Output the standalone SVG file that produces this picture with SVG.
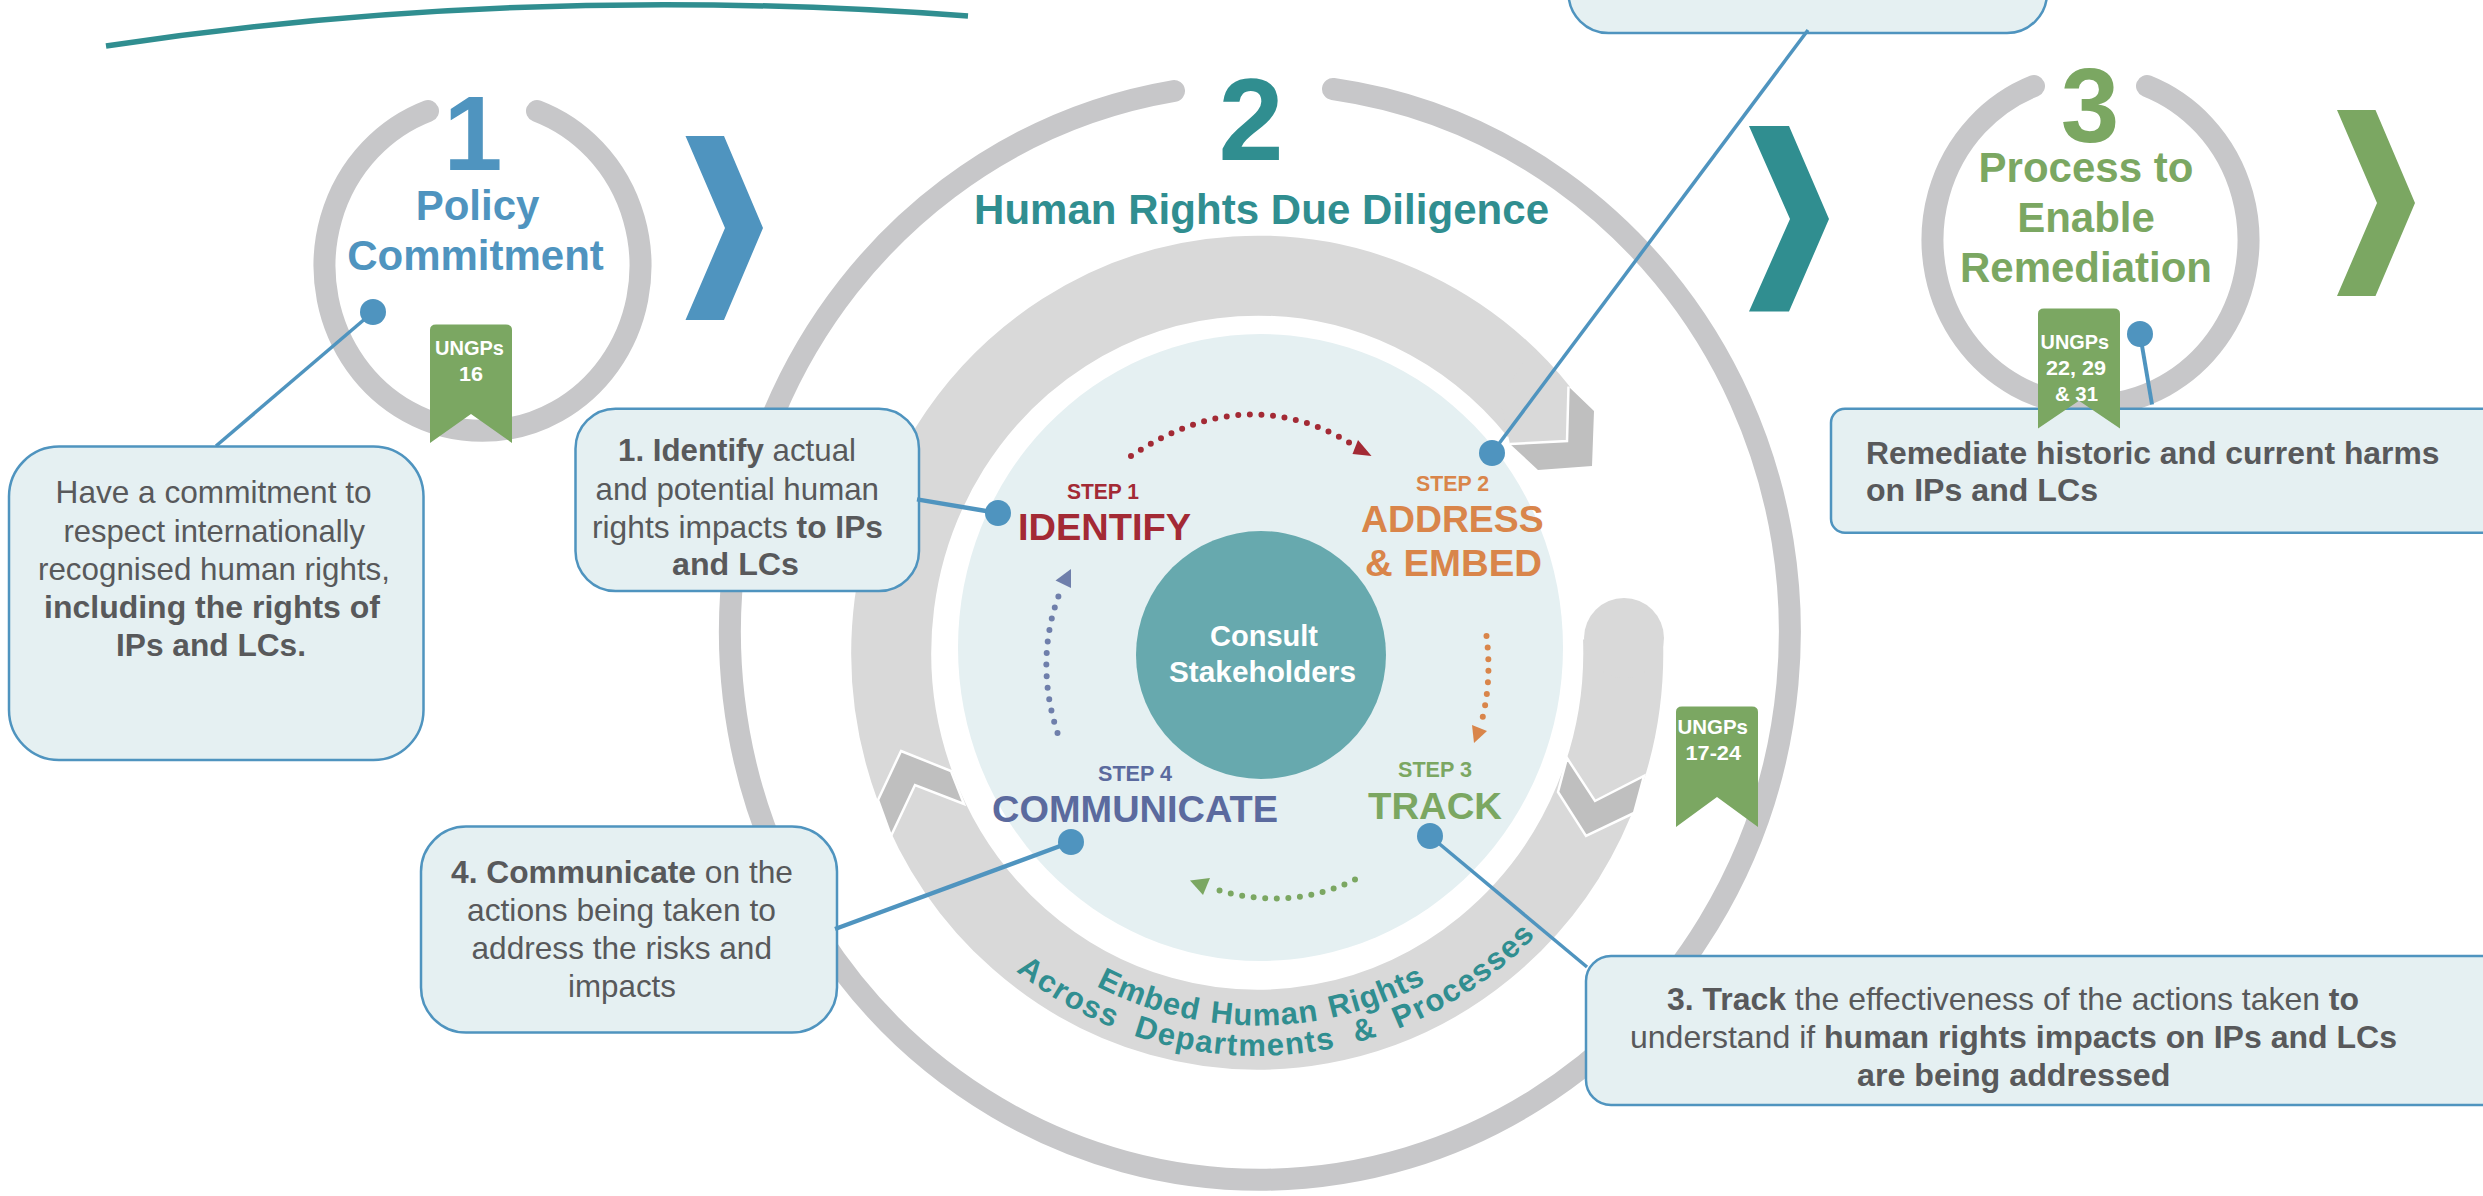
<svg xmlns="http://www.w3.org/2000/svg" width="2483" height="1196" viewBox="0 0 2483 1196">
<style>
text{font-family:"Liberation Sans",Arial,sans-serif}
.ring{fill:none;stroke:#c7c7c9;stroke-width:22;stroke-linecap:round}
.box{fill:#e5f0f2;stroke:#4f94bf;stroke-width:2.5}
.t{font-size:30.5px;fill:#58595b}
.b{font-weight:bold}
.h{font-size:42px;font-weight:bold;text-anchor:middle}
.conn{stroke:#4f94bf;fill:none}
.dot{fill:#4f94bf}
.rib{fill:#7ba762}
.rt{font-size:21px;font-weight:bold;fill:#fff}
.d{fill:none;stroke-width:6;stroke-linecap:round;stroke-dasharray:0 11.6}
.chev{fill:#bfbfbf;stroke:#fff;stroke-width:2.5}
.band{fill:#d9d9d9}
.s{font-size:22px;font-weight:bold}
.l{font-size:37px;font-weight:bold}
.cv{font-size:31px;font-weight:bold;fill:#308e90}
</style>
<defs>
<path id="p1" d="M1096,986 A362,373 0 0 0 1490,939"/>
<path id="p2" d="M1016,971 A392,403 0 0 0 1596,854.5"/>
</defs>
<rect width="2483" height="1196" fill="#fff"/>

<path id="top-arc" d="M106,46 Q520,-17 968,16" fill="none" stroke="#308e90" stroke-width="5.5"/>

<g id="stage-1">
<path class="ring" d="M537,111 A158,165 0 1 1 428,111"/>
<text x="473" y="169.5" font-size="106" font-weight="bold" fill="#4f94bf" text-anchor="middle">1</text>
<text class="h" x="477.5" y="220" fill="#4f94bf">Policy</text>
<text class="h" x="475.5" y="270" fill="#4f94bf">Commitment</text>
<polygon points="685.5,136 724,136 763,228 724,320 685.5,320 725,228" fill="#4f94bf"/>
</g>

<g id="stage-2">
<path class="ring" d="M1333,89 A530,548 0 1 1 1174,91"/>
<text x="1251" y="160" font-size="117" font-weight="bold" fill="#308e90" text-anchor="middle">2</text>
<text class="h" x="974" y="224" fill="#308e90" style="text-anchor:start" textLength="575" lengthAdjust="spacing">Human Rights Due Diligence</text>
<polygon points="1749,126 1789,126 1829,219 1789,311.5 1749,311.5 1790,219" fill="#308e90"/>
</g>

<g id="embed-band">
<path d="M1623,638 A366,377 0 1 1 1539,412" fill="none" stroke="#d9d9d9" stroke-width="80"/>
<circle class="band" cx="1624" cy="638" r="40"/>
<polygon class="band" points="1568,386 1567,441 1510,444 1500,400 1530,350"/>
<polygon points="1568.5,386.5 1594,411 1592,466 1538,470 1510,444 1567,441" fill="#bfbfbf"/>
<polyline points="1568.5,386.5 1567,441 1510,444" fill="none" stroke="#fff" stroke-width="2.5"/>
<polygon class="chev" points="1567,758 1595,801 1644,776 1634,813 1586,836 1558,792"/>
<polygon class="chev" points="901,751 951,771 964,804 915,785 891,836 878,800"/>
<text class="cv" letter-spacing="1" word-spacing="2"><textPath href="#p1">Embed Human Rights</textPath></text>
<text class="cv" letter-spacing="1.5" word-spacing="10"><textPath href="#p2">Across Departments &amp; Processes</textPath></text>
</g>

<g id="inner-circle">
<ellipse cx="1260.5" cy="647.5" rx="302.5" ry="313.5" fill="#e5f0f2"/>
</g>

<g id="consult">
<ellipse cx="1261" cy="655" rx="125" ry="124" fill="#67a9ae"/>
<text x="1210" y="645.6" font-size="29.5" font-weight="bold" fill="#fff" textLength="108" lengthAdjust="spacingAndGlyphs">Consult</text>
<text x="1169" y="681.7" font-size="29.5" font-weight="bold" fill="#fff" textLength="187" lengthAdjust="spacingAndGlyphs">Stakeholders</text>
</g>

<g id="cycle">
<path class="d" stroke="#a32a35" d="M1131,456 Q1245,380 1350,443"/>
<polygon points="1358,440 1371.5,456 1352.5,454" fill="#a32a35"/>
<path class="d" stroke="#d9854a" d="M1486.5,636 Q1492,680 1482,720"/>
<polygon points="1472,725 1487,731 1474,743" fill="#d9854a"/>
<path class="d" stroke="#7ba762" d="M1355,879.5 Q1290,912 1214,889"/>
<polygon points="1190,880.6 1210,878 1203,895" fill="#7ba762"/>
<path class="d" stroke="#6f7fab" d="M1057.5,733 Q1034,660 1060,592"/>
<polygon points="1071,569 1071,588 1055.5,580.5" fill="#6f7fab"/>
</g>

<g id="step-1">
<text class="s" x="1067" y="498.7" fill="#a32a35" textLength="72" lengthAdjust="spacingAndGlyphs">STEP 1</text>
<text class="l" x="1018" y="539.6" fill="#a32a35" textLength="173" lengthAdjust="spacingAndGlyphs">IDENTIFY</text>
</g>
<g id="step-2">
<text class="s" x="1416" y="491" fill="#d9854a" textLength="73" lengthAdjust="spacingAndGlyphs">STEP 2</text>
<text class="l" x="1361" y="532" fill="#d9854a" textLength="182.6" lengthAdjust="spacingAndGlyphs">ADDRESS</text>
<text class="l" x="1365" y="576" fill="#d9854a" textLength="177" lengthAdjust="spacingAndGlyphs">&amp; EMBED</text>
</g>
<g id="step-3">
<text class="s" x="1398" y="777" fill="#7ba762" textLength="74" lengthAdjust="spacingAndGlyphs">STEP 3</text>
<text class="l" x="1368" y="818.6" fill="#7ba762" textLength="134" lengthAdjust="spacingAndGlyphs">TRACK</text>
</g>
<g id="step-4">
<text class="s" x="1098" y="780.6" fill="#5b6a9e" textLength="74" lengthAdjust="spacingAndGlyphs">STEP 4</text>
<text class="l" x="992" y="822.4" fill="#5b6a9e" textLength="286" lengthAdjust="spacingAndGlyphs">COMMUNICATE</text>
</g>

<g id="stage-3">
<path class="ring" d="M2147,86 A158,165 0 1 1 2034,86"/>
<text x="2090" y="142" font-size="105" font-weight="bold" fill="#7ba762" text-anchor="middle">3</text>
<text class="h" x="2086" y="182" fill="#7ba762">Process to</text>
<text class="h" x="2086" y="232" fill="#7ba762">Enable</text>
<text class="h" x="2086" y="282" fill="#7ba762">Remediation</text>
<polygon points="2337,110 2375.5,110 2415,203 2375.5,296 2337,296 2377,203" fill="#7ba762"/>
</g>

<g id="box-policy">
<rect class="box" x="9" y="446.6" width="414.5" height="313.4" rx="50" ry="50"/>
<text class="t" x="55.6" y="503" textLength="316" lengthAdjust="spacingAndGlyphs">Have a commitment to</text>
<text class="t" x="63.5" y="541.5" textLength="301.5" lengthAdjust="spacingAndGlyphs">respect internationally</text>
<text class="t" x="38" y="580" textLength="352" lengthAdjust="spacingAndGlyphs">recognised human rights,</text>
<text class="t b" x="44" y="618" textLength="336" lengthAdjust="spacingAndGlyphs">including the rights of</text>
<text class="t b" x="116" y="656" textLength="190" lengthAdjust="spacingAndGlyphs">IPs and LCs.</text>
</g>
<g id="box-identify">
<rect class="box" x="575.5" y="408.7" width="343.5" height="182.3" rx="40" ry="40"/>
<text class="t" x="618" y="461" textLength="238" lengthAdjust="spacingAndGlyphs"><tspan class="b">1. Identify</tspan> actual</text>
<text class="t" x="595.5" y="499.5" textLength="283.5" lengthAdjust="spacingAndGlyphs">and potential human</text>
<text class="t" x="592" y="537.7" textLength="291" lengthAdjust="spacingAndGlyphs">rights impacts <tspan class="b">to IPs</tspan></text>
<text class="t b" x="672" y="575" textLength="127" lengthAdjust="spacingAndGlyphs">and LCs</text>
</g>
<g id="box-address">
<rect class="box" x="1568.5" y="-60" width="478.5" height="93" rx="40" ry="40"/>
</g>
<g id="box-remediate">
<rect class="box" x="1831" y="408.7" width="720" height="124" rx="14" ry="14"/>
<text class="t b" x="1866" y="464" textLength="573.5" lengthAdjust="spacingAndGlyphs">Remediate historic and current harms</text>
<text class="t b" x="1866" y="501" textLength="232" lengthAdjust="spacingAndGlyphs">on IPs and LCs</text>
</g>
<g id="box-communicate">
<rect class="box" x="421" y="826.6" width="416" height="206" rx="45" ry="45"/>
<text class="t" x="451" y="883" textLength="342" lengthAdjust="spacingAndGlyphs"><tspan class="b">4. Communicate</tspan> on the</text>
<text class="t" x="467" y="921" textLength="309" lengthAdjust="spacingAndGlyphs">actions being taken to</text>
<text class="t" x="471.5" y="959" textLength="300.5" lengthAdjust="spacingAndGlyphs">address the risks and</text>
<text class="t" x="568" y="997" textLength="108" lengthAdjust="spacingAndGlyphs">impacts</text>
</g>
<g id="box-track">
<rect class="box" x="1586" y="956" width="950" height="149" rx="25" ry="25"/>
<text class="t" x="1667" y="1009.5" textLength="692" lengthAdjust="spacingAndGlyphs"><tspan class="b">3. Track</tspan> the effectiveness of the actions taken <tspan class="b">to</tspan></text>
<text class="t" x="1630" y="1047.5" textLength="767" lengthAdjust="spacingAndGlyphs">understand if <tspan class="b">human rights impacts on IPs and LCs</tspan></text>
<text class="t b" x="1857" y="1085.5" textLength="313.5" lengthAdjust="spacingAndGlyphs">are being addressed</text>
</g>

<g id="ribbon-16">
<path class="rib" d="M430,443 V330 Q430,324.5 436,324.5 H506 Q512,324.5 512,330 V443 L471,414 Z"/>
<text class="rt" x="435" y="355" textLength="69" lengthAdjust="spacingAndGlyphs">UNGPs</text>
<text class="rt" x="459" y="381" textLength="24" lengthAdjust="spacingAndGlyphs">16</text>
</g>
<g id="ribbon-17-24">
<path class="rib" d="M1676,827 V712 Q1676,706.5 1682,706.5 H1752 Q1758,706.5 1758,712 V827 L1717,797 Z"/>
<text class="rt" x="1677.5" y="733.8" textLength="70.5" lengthAdjust="spacingAndGlyphs">UNGPs</text>
<text class="rt" x="1685.5" y="759.7" textLength="55.5" lengthAdjust="spacingAndGlyphs">17-24</text>
</g>
<g id="ribbon-22-29-31">
<path class="rib" d="M2038,428.6 V314 Q2038,308.5 2044,308.5 H2114 Q2120,308.5 2120,314 V428.6 L2079,400.7 Z"/>
<text class="rt" x="2040.6" y="349" textLength="68.4" lengthAdjust="spacingAndGlyphs">UNGPs</text>
<text class="rt" x="2046" y="375" textLength="60" lengthAdjust="spacingAndGlyphs">22, 29</text>
<text class="rt" x="2055" y="400.7" textLength="43" lengthAdjust="spacingAndGlyphs">&amp; 31</text>
</g>

<g id="connectors">
<line class="conn" stroke-width="3.5" x1="373" y1="312" x2="216" y2="446"/>
<line class="conn" stroke-width="4.5" x1="998" y1="513" x2="917" y2="499.4"/>
<line class="conn" stroke-width="3.5" x1="1492" y1="453" x2="1808" y2="30"/>
<line class="conn" stroke-width="4" x1="2140" y1="334" x2="2152" y2="404.5"/>
<line class="conn" stroke-width="4.5" x1="1071" y1="842" x2="835" y2="929"/>
<line class="conn" stroke-width="3.5" x1="1430" y1="836" x2="1587" y2="967"/>
<circle class="dot" cx="373" cy="312" r="13"/>
<circle class="dot" cx="998" cy="513" r="13"/>
<circle class="dot" cx="1492" cy="453" r="13"/>
<circle class="dot" cx="2140" cy="334" r="13"/>
<circle class="dot" cx="1071" cy="842" r="13"/>
<circle class="dot" cx="1430" cy="836" r="13"/>
</g>
</svg>
